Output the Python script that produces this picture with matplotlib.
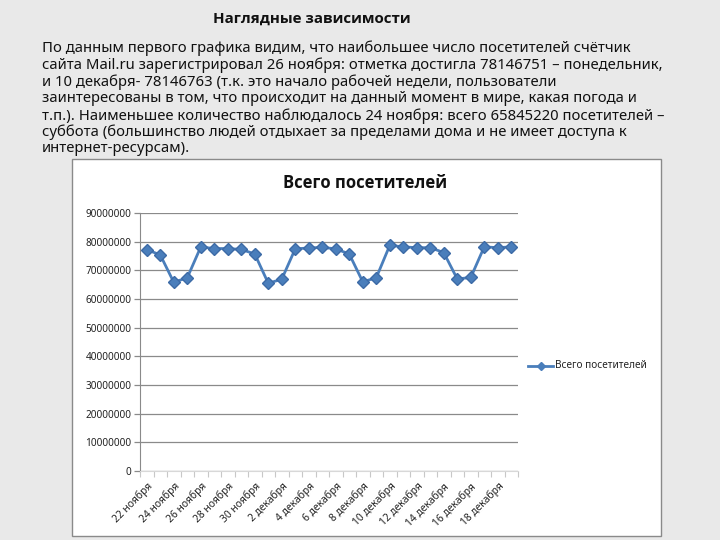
import matplotlib
matplotlib.use("Agg")
import matplotlib.pyplot as plt
from matplotlib.patches import Rectangle
from matplotlib.lines import Line2D
from matplotlib import font_manager

plt.rcParams['font.family'] = ['Noto Sans', 'DejaVu Sans']

W, H = 720, 540

# ---- data ----
dates = ["22 ноября", "23 ноября", "24 ноября", "25 ноября", "26 ноября", "27 ноября",
         "28 ноября", "29 ноября", "30 ноября", "1 декабря", "2 декабря", "3 декабря",
         "4 декабря", "5 декабря", "6 декабря", "7 декабря", "8 декабря", "9 декабря",
         "10 декабря", "11 декабря", "12 декабря", "13 декабря", "14 декабря", "15 декабря",
         "16 декабря", "17 декабря", "18 декабря", "19 декабря"]
visitors = [77200000, 75400000, 65845220, 67400000, 78146751, 77600000, 77600000,
            77300000, 75700000, 65500000, 66900000, 77500000, 77800000, 78000000,
            77500000, 75700000, 66000000, 67400000, 78700000, 78200000, 77900000,
            77900000, 76200000, 67000000, 67500000, 78200000, 77900000, 78200000]
yticks = [0, 10000000, 20000000, 30000000, 40000000, 50000000, 60000000,
          70000000, 80000000, 90000000]
series_name = "Всего посетителей"
slide_title = "Наглядные зависимости"
paragraph = [
    "По данным первого графика видим, что наибольшее число посетителей счётчик",
    "сайта Mail.ru зарегистрировал 26 ноября: отметка достигла 78146751 – понедельник,",
    "и 10 декабря- 78146763 (т.к. это начало рабочей недели, пользователи",
    "заинтересованы в том, что происходит на данный момент в мире, какая погода и",
    "т.п.). Наименьшее количество наблюдалось 24 ноября: всего 65845220 посетителей –",
    "суббота (большинство людей отдыхает за пределами дома и не имеет доступа к",
    "интернет-ресурсам).",
]

# pick a family that really has a bold face
bold_family = ['DejaVu Sans']
for fam in ['Open Sans', 'Noto Sans', 'Liberation Sans']:
    try:
        fp = font_manager.FontProperties(family=fam, weight='bold')
        path = font_manager.findfont(fp, fallback_to_default=False)
        if 'bold' in path.lower():
            bold_family = [fam, 'DejaVu Sans']
            break
    except Exception:
        pass

def fx(x):
    return x / W

def fy(y):
    return 1 - y / H

fig = plt.figure(figsize=(7.2, 5.4), dpi=100)
fig.patch.set_facecolor('#e9e9e9')

# slide title
fig.text(fx(312), fy(19), slide_title, ha='center', va='center',
         fontsize=10.9, fontweight='bold', family=bold_family, color='#111111')

# paragraph
line_y = [48, 65, 82, 99, 116, 132, 148]
for txt, yy in zip(paragraph, line_y):
    fig.text(fx(42), fy(yy), txt, ha='left', va='center', fontsize=10.7,
             color='#111111')

# chart box
fig.add_artist(Rectangle((fx(72), fy(536)), fx(661) - fx(72), fy(159) - fy(536),
                         transform=fig.transFigure, facecolor='white',
                         edgecolor='#8a8a8a', lw=1.0, zorder=0))

# chart title
fig.text(fx(365), fy(183), series_name, ha='center', va='center',
         fontsize=12, fontweight='bold', family=bold_family, color='#111111')

ax = fig.add_axes([fx(140), fy(471), fx(518) - fx(140), fy(213) - fy(471)])
ax.set_facecolor('white')
x = list(range(len(dates)))
ax.plot(x, visitors, color='#4a7ebb', lw=2.0, marker='D', markersize=6.5,
        markerfacecolor='#4a7ebb', markeredgecolor='#3c6aa6', zorder=3)

ax.set_xlim(-0.5, len(dates) - 0.5)
ax.set_ylim(0, 90000000)
ax.set_yticks(yticks)
ax.set_yticklabels([str(v) for v in yticks], fontsize=7.2, color='#222222')
ax.yaxis.grid(True, color='#8a8a8a', lw=0.9)
ax.set_axisbelow(True)

ax.set_xticks(x[::2])
ax.set_xticklabels(dates[::2], rotation=45, ha='right', va='top',
                   rotation_mode='anchor', fontsize=7.4, color='#222222')
ax.tick_params(axis='x', length=0, pad=7)
ax.set_xticks([i - 0.5 for i in range(len(dates) + 1)], minor=True)
ax.tick_params(axis='x', which='minor', length=4, color='#c8c8c8', width=0.8)
ax.tick_params(axis='y', length=4, color='#8a8a8a', width=0.9, pad=2)

for s in ['top', 'right']:
    ax.spines[s].set_visible(False)
ax.spines['left'].set_color('#8a8a8a')
ax.spines['bottom'].set_color('#d8d8d8')

# legend
fig.add_artist(Line2D([fx(528), fx(553)], [fy(366), fy(366)], color='#4a7ebb',
                      lw=2.0, transform=fig.transFigure))
fig.add_artist(Line2D([fx(540.5)], [fy(366)], color='#4a7ebb', marker='D',
                      markersize=4.5, transform=fig.transFigure))
fig.text(fx(555), fy(366), series_name, ha='left', va='center', fontsize=7.2,
         color='#222222')

fig.savefig('out.png', dpi=100, facecolor=fig.get_facecolor())
